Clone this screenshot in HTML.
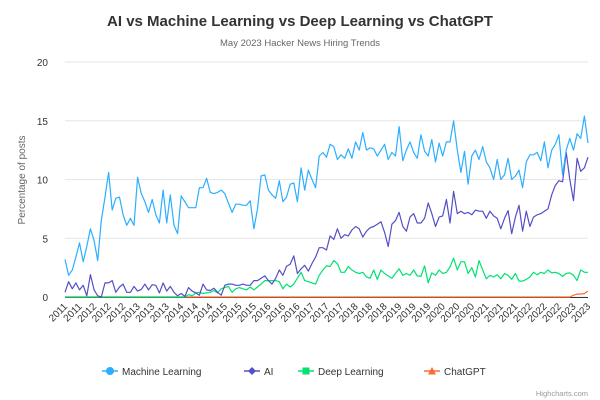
<!DOCTYPE html>
<html><head><meta charset="utf-8"><style>
body{margin:0;background:#fff;font-family:"Liberation Sans",sans-serif}
svg{display:block}
</style></head><body>
<svg id="chart" width="600" height="400" xmlns="http://www.w3.org/2000/svg">
<text x="300" y="26" text-anchor="middle" font-size="15" font-weight="bold" fill="#333">AI vs Machine Learning vs Deep Learning vs ChatGPT</text>
<text x="300" y="46" text-anchor="middle" font-size="9.5" fill="#666">May 2023 Hacker News Hiring Trends</text>
<text transform="translate(25,180) rotate(-90)" text-anchor="middle" font-size="10" fill="#666">Percentage of posts</text>
<g id="grid"></g><g id="xlabels"></g><g id="series"></g>
<g id="legend" font-size="10" fill="#333"></g>
<text x="588" y="396" text-anchor="end" font-size="7.5" fill="#999">Highcharts.com</text>
</svg>
<script>
const startYear = 2011, startMonth = 5;
const yTicks = [0, 5, 10, 15, 20];
const mlValues = [3.2,1.85,2.3,3.4,4.6,3.0,4.3,5.8,4.8,3.1,6.5,8.5,10.6,7.4,8.4,8.5,7.0,6.1,6.7,6.1,10.2,8.8,8.1,7.2,8.3,7.0,6.3,9.1,6.3,8.7,6.1,5.4,8.6,8.1,7.6,7.6,7.6,9.3,9.3,10.1,8.9,8.8,8.9,9.1,8.8,8.0,7.2,7.9,7.9,7.8,7.8,8.2,5.8,7.5,10.3,10.4,9.1,8.7,8.4,9.9,8.1,8.5,9.6,9.7,8.1,11.0,9.1,10.8,10.0,9.3,12.0,12.3,11.9,13.0,12.8,11.7,12.1,11.8,12.6,11.8,13.2,12.5,14.0,12.5,12.7,12.6,12.0,12.5,13.0,11.7,12.3,12.0,14.5,11.6,12.5,13.2,12.3,11.8,13.8,12.4,12.0,13.4,11.5,13.1,12.0,13.2,13.2,15.0,12.5,10.6,12.4,9.6,12.0,12.5,11.7,12.8,11.5,11.0,10.0,11.7,10.0,10.4,11.8,10.0,10.3,10.8,9.3,11.5,12.1,12.1,12.3,11.6,13.2,11.0,12.5,13.0,13.8,10.4,12.5,13.5,12.5,13.9,13.5,15.4,13.1];
const aiValues = [0.4,1.3,0.7,1.2,0.6,1.0,0.1,1.9,0.6,0.1,0,1.2,1.2,1.4,0.4,0.85,1.1,0.4,0.4,0.9,0.5,0.65,1.1,0.6,1.05,1.0,0.35,1.2,0.5,0.9,0.4,0.1,0.3,0.05,0.8,0.5,0.35,0.15,1.1,0.6,0.55,0.75,0.4,0.15,1.0,1.1,1.1,1.0,1.0,1.1,1.0,1.0,1.4,1.4,1.6,1.8,1.4,1.1,1.6,2.3,1.85,2.6,2.8,3.5,2.0,2.4,2.7,2.2,2.85,3.4,4.2,4.2,4.0,5.2,4.9,5.8,5.0,5.3,5.2,5.7,6.0,5.8,5.1,5.6,5.9,6.0,6.2,6.4,5.5,4.3,6.2,6.5,7.2,6.0,5.6,6.8,7.1,6.3,6.3,6.7,8.0,7.1,6.0,6.8,6.9,8.3,6.3,9.0,7.1,7.3,7.1,7.2,7.0,7.4,7.3,7.3,6.7,7.3,6.9,6.7,5.8,6.7,7.35,5.4,6.8,7.8,5.6,7.3,6.0,6.8,7.0,7.1,7.3,7.5,8.7,9.5,9.9,9.8,12.3,10.0,8.2,11.8,10.7,11.0,11.9];
const dlValues = [0,0,0,0,0,0,0,0,0,0,0,0,0,0,0,0,0,0,0,0,0,0,0,0,0,0,0,0,0,0,0,0,0,0,0.2,0.1,0.35,0.4,0.3,0.35,0.4,0.55,0.35,0.7,0.8,0.9,0.4,0.7,0.8,0.7,0.6,0.85,0.6,0.85,1.1,1.4,1.4,1.4,1.4,1.3,0.7,1.1,0.85,1.1,1.6,2.1,1.4,1.3,1.2,1.1,1.85,2.3,2.65,2.6,3.1,2.85,2.1,2.1,2.6,2.3,2.1,2.0,2.1,1.7,1.6,2.3,1.5,2.3,2.0,1.8,1.6,2.0,2.4,1.85,2.0,1.85,2.3,1.8,1.75,2.65,1.2,2.05,1.85,2.3,2.0,2.1,2.55,3.3,2.3,3.0,3.0,2.0,2.5,1.7,3.1,2.3,1.55,1.85,1.7,1.9,1.55,2.0,1.85,1.5,2.0,1.35,1.35,1.5,1.7,2.1,1.9,2.1,2.0,2.3,2.05,2.1,2.0,1.75,2.0,2.05,1.85,1.4,2.3,2.1,2.1];
const chatValues = new Array(145).fill(0);
chatValues[140] = 0.15; chatValues[141] = 0.25; chatValues[142] = 0.25; chatValues[143] = 0.3; chatValues[144] = 0.5;

const X0 = 65, X1 = 588, Y0 = 297, Y1 = 62, YMAX = 20;
const N = mlValues.length;
const xs = i => X0 + (X1 - X0) * i / (N - 1);
const ys = v => Y0 - (Y0 - Y1) * v / YMAX;
const NS = "http://www.w3.org/2000/svg";
function mk(tag, attrs, parent) { const e = document.createElementNS(NS, tag); for (const k in attrs) e.setAttribute(k, attrs[k]); parent.appendChild(e); return e; }

const grid = document.getElementById('grid');
yTicks.forEach(t => {
  const l = mk('line', {x1: X0, x2: X1, y1: ys(t), y2: ys(t), stroke: '#e6e6e6', 'stroke-width': 1}, grid);
  
  
  const tx = mk('text', {x: 48, y: ys(t) + 4, 'text-anchor': 'end', 'font-size': 10, fill: '#333'}, grid);
  tx.textContent = t;
  
  
});
const ax = mk('line', {x1: X0, x2: X1, y1: Y0 + 0.5, y2: Y0 + 0.5, stroke: '#333', 'stroke-width': 1}, grid);



const xl = document.getElementById('xlabels');
for (let i = 0; i < N; i += 4) {
  const yr = startYear + Math.floor((startMonth - 1 + i) / 12);
  const x = xs(i) + 3, y = 307;
  const t = mk('text', {x: x, y: y, 'text-anchor': 'end', 'font-size': 10, fill: '#333', transform: `rotate(-45 ${x} ${y})`}, xl);
  t.textContent = yr;
  
  
}

const seriesDefs = [
  {name: 'Machine Learning', data: mlValues, color: '#2caffe', key: 'machine-learning'},
  {name: 'AI', data: aiValues, color: '#544fc5', key: 'ai'},
  {name: 'Deep Learning', data: dlValues, color: '#00e272', key: 'deep-learning'},
  {name: 'ChatGPT', data: chatValues, color: '#fe6a35', key: 'chatgpt'}
];
const sg = document.getElementById('series');
seriesDefs.slice().reverse().forEach(s => {
  const d = s.data.map((v, i) => (i ? 'L' : 'M') + xs(i).toFixed(1) + ' ' + ys(v).toFixed(1)).join(' ');
  const p = mk('path', {d: d, fill: 'none', stroke: s.color, 'stroke-width': 1.2, 'stroke-linejoin': 'round'}, sg);
  
  
});

const lg = document.getElementById('legend');
const legendX = [102, 244, 298, 424];
const markers = ['circle', 'diamond', 'square', 'triangle'];
seriesDefs.forEach((s, i) => {
  const g = mk('g', {}, lg);
  
  
  const x = legendX[i], y = 371;
  mk('line', {x1: x, x2: x + 16, y1: y, y2: y, stroke: s.color, 'stroke-width': 1.5}, g);
  const cx = x + 8;
  if (markers[i] === 'circle') mk('circle', {cx: cx, cy: y, r: 4, fill: s.color}, g);
  if (markers[i] === 'diamond') mk('path', {d: `M${cx} ${y-4} L${cx+4} ${y} L${cx} ${y+4} L${cx-4} ${y} Z`, fill: s.color}, g);
  if (markers[i] === 'square') mk('rect', {x: cx - 3.5, y: y - 3.5, width: 7, height: 7, fill: s.color}, g);
  if (markers[i] === 'triangle') mk('path', {d: `M${cx} ${y-4} L${cx+4} ${y+3.5} L${cx-4} ${y+3.5} Z`, fill: s.color}, g);
  const t = mk('text', {x: x + 20, y: y + 4, 'font-size': 10, fill: '#333'}, g);
  t.textContent = s.name;
});
</script>
</body></html>
